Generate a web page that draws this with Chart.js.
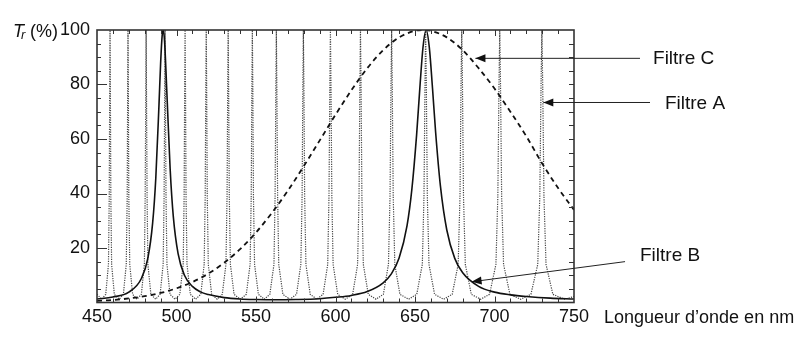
<!DOCTYPE html>
<html lang="fr">
<head>
  <meta charset="UTF-8">
  <title>Filtres A, B, C</title>
  <script src="https://cdn.jsdelivr.net/npm/chart.js"></script>
  <style>
    html, body { margin: 0; padding: 0; background: #fff; }
    #wrap { width: 810px; height: 339px; }
  </style>
</head>
<body>
  <div id="wrap"><canvas id="chart" width="810" height="339"></canvas></div>

  <script>
    // Tick labels
    const xTickValues = [450, 500, 550, 600, 650, 700, 750];
    const yTickValues = [20, 40, 60, 80, 100];

    // Filtre A : comb of narrow peaks
    const filterAWl = [
      450, 453,
      455.5, 457.2, 457.7, 458.0, 458.2, 458.4, 458.7, 459.2, 460.9, 464.0,
      466.6, 468.4, 469.0, 469.3, 469.5, 469.7, 470.0, 470.6, 472.4, 475.2,
      477.9, 479.8, 480.3, 480.7, 480.9, 481.1, 481.5, 482.0, 483.9, 486.9,
      489.7, 491.6, 492.2, 492.6, 492.8, 493.0, 493.4, 494.0, 495.9, 499.1,
      502.1, 504.2, 504.8, 505.15, 505.4, 505.65, 506.0, 506.6, 508.7, 512.0,
      515.3, 517.4, 518.05, 518.44, 518.7, 518.96, 519.35, 520.0, 522.1, 525.6,
      528.8, 531.1, 531.8, 532.22, 532.5, 532.78, 533.2, 533.9, 536.2, 540.1,
      543.9, 546.3, 547.0, 547.41, 547.7, 547.99, 548.4, 549.1, 551.5, 555.2,
      558.7, 561.3, 562.0, 562.5, 562.8, 563.1, 563.6, 564.3, 566.9, 571.3,
      575.5, 578.2, 579.0, 579.48, 579.8, 580.12, 580.6, 581.4, 584.1, 588.3,
      592.2, 595.1, 595.9, 596.45, 596.8, 597.15, 597.7, 598.5, 601.4, 606.2,
      610.8, 613.9, 614.8, 615.33, 615.7, 616.07, 616.6, 617.5, 620.6, 625.5,
      630.1, 633.3, 634.3, 634.91, 635.3, 635.69, 636.3, 637.3, 640.5, 646.0,
      651.1, 654.6, 655.65, 656.28, 656.7, 657.12, 657.75, 658.8, 662.3, 668.0,
      673.4, 677.15, 678.3, 678.95, 679.4, 679.85, 680.5, 681.65, 685.4, 691.3,
      696.9, 700.9, 702.1, 702.82, 703.3, 703.78, 704.5, 705.7, 709.7, 716.5,
      722.9, 727.2, 728.5, 729.28, 729.8, 730.32, 731.1, 732.4, 736.7, 744.0,
      750
    ];
    const filterAT = [
      3, 1.2,
      3, 14, 39, 80, 100, 80, 39, 14, 3, 1.2,
      3, 14, 39, 80, 100, 80, 39, 14, 3, 1.2,
      3, 14, 39, 80, 100, 80, 39, 14, 3, 1.2,
      3, 14, 39, 80, 100, 80, 39, 14, 3, 1.2,
      3, 14, 39, 80, 100, 80, 39, 14, 3, 1.2,
      3, 14, 39, 80, 100, 80, 39, 14, 3, 1.2,
      3, 14, 39, 80, 100, 80, 39, 14, 3, 1.2,
      3, 14, 39, 80, 100, 80, 39, 14, 3, 1.2,
      3, 14, 39, 80, 100, 80, 39, 14, 3, 1.2,
      3, 14, 39, 80, 100, 80, 39, 14, 3, 1.2,
      3, 14, 39, 80, 100, 80, 39, 14, 3, 1.2,
      3, 14, 39, 80, 100, 80, 39, 14, 3, 1.2,
      3, 14, 39, 80, 100, 80, 39, 14, 3, 1.2,
      3, 14, 39, 80, 100, 80, 39, 14, 3, 1.2,
      3, 14, 39, 80, 100, 80, 39, 14, 3, 1.2,
      3, 14, 39, 80, 100, 80, 39, 14, 3, 1.2,
      3, 14, 39, 80, 100, 80, 39, 14, 3, 1.2,
      2.2
    ];

    // Filtre B : two peaks near 492 nm and 657 nm
    const filterBWl = [450, 460, 470, 478, 482, 485, 487, 489, 490, 491, 491.6, 492.5, 494, 496, 498, 501, 505, 510, 515, 520,
      530, 540, 550, 562, 575, 590, 600, 610, 620, 630, 635, 640, 645, 648, 651, 653, 655, 657, 659, 661,
      663, 666, 670, 675, 680, 690, 700, 710, 720, 735, 750];
    const filterBT = [1.3, 2.0, 3.8, 8.9, 16.3, 29.2, 45.9, 72.8, 87.6, 98.1, 100, 95.8, 76.2, 49.1, 31.5, 17.9, 10.0, 5.9, 3.9, 2.9,
      1.8, 1.3, 1.1, 1.0, 1.1, 1.4, 1.9, 2.6, 4.0, 7.2, 10.4, 16.3, 28.2, 41.4, 61.4, 78.3, 93.5, 100, 93.6, 78.7,
      62.3, 42.7, 26.6, 16.2, 10.9, 5.9, 3.8, 2.8, 2.2, 1.6, 1.3];

    // Filtre C : broad band centred near 655 nm
    const filterCWl = [450, 460, 470, 480, 490, 500, 510, 520, 530, 540, 550, 560, 570, 580, 590, 600, 610, 620, 630, 640, 650,
      655, 660, 670, 680, 690, 700, 710, 720, 730, 740, 750];
    const filterCT = [0.6, 0.9, 1.5, 2.3, 3.5, 5.2, 7.5, 10.6, 14.6, 19.6, 25.7, 32.9, 41.0, 50.0, 59.4, 68.9, 77.9, 86.0, 92.6, 97.3, 99.7,
      100, 99.7, 97.3, 92.6, 86.0, 78.5, 70.0, 61.0, 51.0, 42.0, 34.0];

    const toPoints = (xs, ys) => xs.map((v, i) => ({ x: v, y: ys[i] }));

    // arrows + labels, anchored in data units (tip, tail, text)
    const notes = [
      { text: 'Filtre C', tip: [688.0, 89.6], tail: [791.5, 89.6], at: [799.7, 89.6] },
      { text: 'Filtre A', tip: [730.7, 73.4], tail: [797.8, 73.4], at: [807.2, 73.1] },
      { text: 'Filtre B', tip: [685.6, 7.6], tail: [782.1, 15.0], at: [791.5, 17.1] }
    ];

    const FONT = '"Liberation Sans", Arial, sans-serif';

    const framePlugin = {
      id: 'framePlugin',
      afterDraw(chart) {
        const { ctx, chartArea: a, scales: { x, y } } = chart;
        ctx.save();
        ctx.strokeStyle = '#333';
        ctx.lineWidth = 1;
        const seg = (x1, y1, x2, y2) => { ctx.beginPath(); ctx.moveTo(x1, y1); ctx.lineTo(x2, y2); ctx.stroke(); };

        // inward ticks
        for (let v = 460; v < 750; v += 10) {
          const px = Math.round(x.getPixelForValue(v)) + 0.5;
          const big = xTickValues.includes(v);
          seg(px, a.bottom, px, a.bottom - (big ? 6 : 4));
          seg(px, a.top, px, a.top + (big ? 6 : 4));
        }
        for (let v = 5; v < 100; v += 5) {
          const py = Math.round(y.getPixelForValue(v)) + 0.5;
          const big = yTickValues.includes(v);
          seg(a.left, py, a.left + (big ? 10 : 4), py);
          seg(a.right, py, a.right - 5, py);
        }

        // frame
        ctx.lineWidth = 1.6;
        ctx.strokeRect(a.left, a.top, a.right - a.left, a.bottom - a.top);

        // axis titles
        ctx.fillStyle = '#111';
        ctx.textBaseline = 'alphabetic';
        ctx.textAlign = 'left';
        ctx.font = 'italic 18px ' + FONT;
        ctx.fillText('T', a.left - 84, a.top + 7);
        ctx.font = 'italic 13px ' + FONT;
        ctx.fillText('r', a.left - 76, a.top + 9);
        ctx.font = '18px ' + FONT;
        ctx.fillText('(%)', a.left - 67, a.top + 7);
        ctx.fillText('Longueur d\u2019onde en nm', a.right + 30, a.bottom + 20.5);

        // annotations
        ctx.strokeStyle = '#222';
        ctx.fillStyle = '#111';
        ctx.lineWidth = 1;
        ctx.font = '19px ' + FONT;
        ctx.textBaseline = 'middle';
        notes.forEach(n => {
          const tx = x.getPixelForValue(n.tip[0]), ty = y.getPixelForValue(n.tip[1]);
          const sx = x.getPixelForValue(n.tail[0]), sy = y.getPixelForValue(n.tail[1]);
          seg(sx, sy, tx, ty);
          const ang = Math.atan2(sy - ty, sx - tx);
          const L = 10, W = 4;
          const bx = tx + L * Math.cos(ang), by = ty + L * Math.sin(ang);
          ctx.beginPath();
          ctx.moveTo(tx, ty);
          ctx.lineTo(bx - W * Math.sin(ang), by + W * Math.cos(ang));
          ctx.lineTo(bx + W * Math.sin(ang), by - W * Math.cos(ang));
          ctx.closePath();
          ctx.fill();
          ctx.fillText(n.text, x.getPixelForValue(n.at[0]), y.getPixelForValue(n.at[1]));
        });
        ctx.restore();
      }
    };

    new Chart(document.getElementById('chart'), {
      type: 'line',
      data: {
        datasets: [
          {
            label: 'Filtre B',
            data: toPoints(filterBWl, filterBT),
            borderColor: '#111',
            borderWidth: 1.6,
            pointRadius: 0,
            cubicInterpolationMode: 'monotone',
            tension: 0.4
          },
          {
            label: 'Filtre C',
            data: toPoints(filterCWl, filterCT),
            borderColor: '#111',
            borderWidth: 1.8,
            borderDash: [5, 4],
            pointRadius: 0,
            cubicInterpolationMode: 'monotone',
            tension: 0.4
          },
          {
            label: 'Filtre A',
            data: toPoints(filterAWl, filterAT),
            borderColor: '#444',
            borderWidth: 1.2,
            borderDash: [1.2, 1.2],
            pointRadius: 0,
            tension: 0
          }
        ]
      },
      options: {
        responsive: false,
        devicePixelRatio: 1,
        animation: false,
        events: [],
        layout: { padding: { left: 0, right: 236, top: 30, bottom: 0 } },
        plugins: { legend: { display: false }, tooltip: { enabled: false } },
        scales: {
          x: {
            type: 'linear',
            min: 450,
            max: 750,
            grid: { display: false, drawTicks: false },
            border: { display: false },
            afterBuildTicks: s => { s.ticks = xTickValues.map(v => ({ value: v })); },
            afterFit: s => { s.height = 36.5; },
            ticks: { color: '#111', padding: 4, maxRotation: 0, font: { family: FONT, size: 18 } }
          },
          y: {
            min: 0,
            max: 100,
            grid: { display: false, drawTicks: false },
            border: { display: false },
            afterBuildTicks: s => { s.ticks = yTickValues.map(v => ({ value: v })); },
            afterFit: s => { s.width = 97; },
            ticks: { color: '#111', padding: 7, font: { family: FONT, size: 18 } }
          }
        }
      },
      plugins: [framePlugin]
    });
  </script>
</body>
</html>
